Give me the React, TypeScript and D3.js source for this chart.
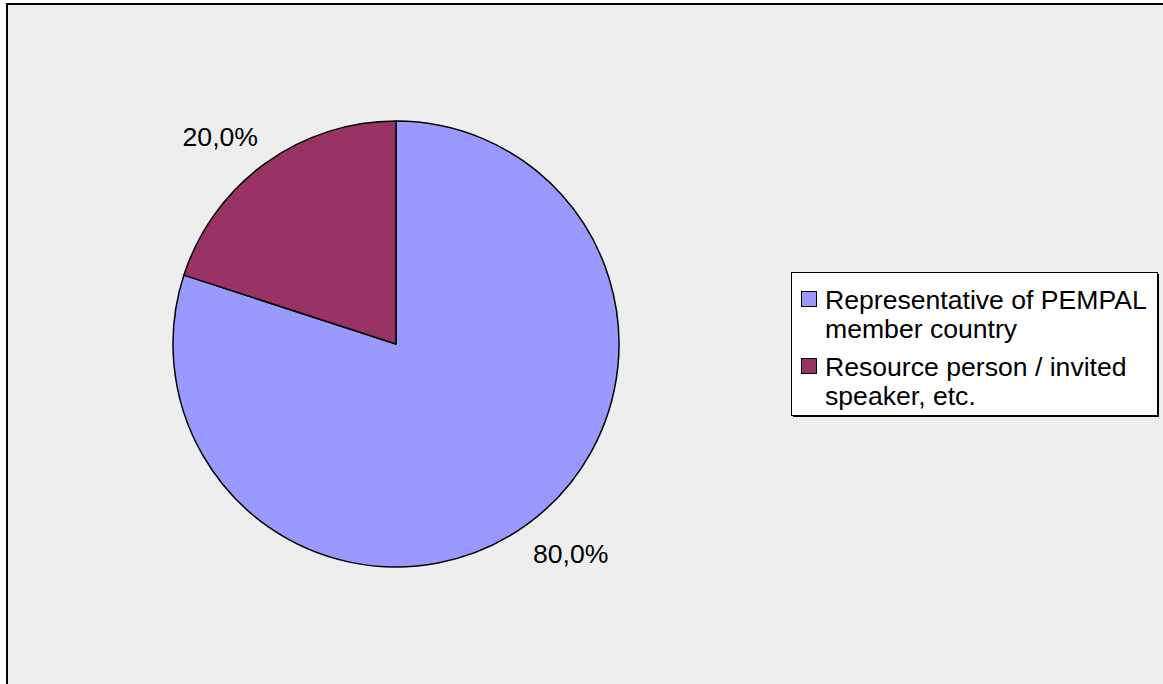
import React from "react";
import * as d3 from "d3";

const categories = ["Representative of PEMPAL member country", "Resource person / invited speaker, etc."];
const legendLines = [["Representative of PEMPAL", "member country"], ["Resource person / invited", "speaker, etc."]];
const values = [80, 20];
const labels = ["80,0%", "20,0%"];
const colors = ["#9999FF", "#993366"];

const W = 1163, H = 684;
const cx = 396, cy = 344, R = 223;
const FONT = "'Liberation Sans', Arial, sans-serif";
const FS = 26.6;

export default function App() {
  const pie = d3.pie<number>().sort(null).startAngle(0).endAngle(2 * Math.PI);
  const arcs = pie(values);
  const arcGen = d3.arc<d3.PieArcDatum<number>>().innerRadius(0).outerRadius(R);
  const cap = FS * 0.716;

  return (
    <svg width={W} height={H} style={{ position: "absolute", left: 0, top: 0 }} fontFamily={FONT}>
      <rect x={0} y={0} width={W} height={H} fill="#ffffff" />
      <rect x={7} y={4} width={1300} height={900} fill="#EEEEEE" stroke="#000" strokeWidth={2} />
      <g transform={`translate(${cx},${cy})`}>
        {arcs.map((a, i) => (
          <path key={i} d={arcGen(a) || ""} fill={colors[i]} stroke="#000" strokeWidth={1.5} strokeLinejoin="round" />
        ))}
      </g>
      {arcs.map((a, i) => {
        const mid = (a.startAngle + a.endAngle) / 2;
        const dx = Math.sin(mid), dy = -Math.cos(mid);
        const rr = R + 22;
        const px = cx + dx * rr, py = cy + dy * rr;
        const anchor = dx >= 0 ? "start" : "end";
        const base = dy > 0 ? py + cap : py;
        return (
          <text key={i} x={px + (dx >= 0 ? -7 : 6)} y={base + (dy > 0 ? 2 : 0)} textAnchor={anchor} fontSize={FS} fill="#000">
            {labels[i]}
          </text>
        );
      })}
      <g>
        <rect x={793} y={274} width={366} height={143} fill="#000" />
        <rect x={791.5} y={272.5} width={366} height={143} fill="#fff" stroke="#000" strokeWidth={1} />
        {categories.map((c, i) => {
          const y0 = 309 + i * 67;
          return (
            <g key={c}>
              <rect x={801.5} y={y0 - 17.5} width={15} height={15} fill={colors[i]} stroke="#000" strokeWidth={1} />
              {legendLines[i].map((t, j) => (
                <text key={j} x={825} y={y0 + j * 29} fontSize={FS} fill="#000">{t}</text>
              ))}
            </g>
          );
        })}
      </g>
    </svg>
  );
}
